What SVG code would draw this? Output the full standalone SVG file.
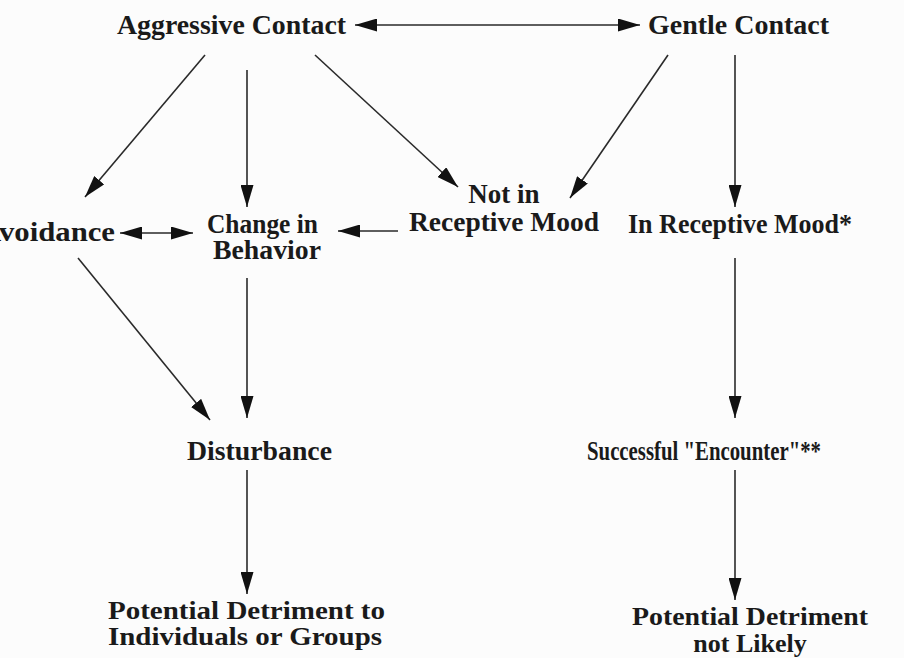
<svg xmlns="http://www.w3.org/2000/svg" width="904" height="658" viewBox="0 0 904 658">
<style>
text{font-family:"Liberation Serif","Times New Roman",serif;font-weight:bold;font-size:27px;fill:#1a1a1a}
.c line{stroke:#2a2a2a;stroke-width:1.6;fill:none}
</style>
<defs>
<marker id="ah" viewBox="0 0 22 13" refX="22" refY="6.5" markerWidth="22" markerHeight="13" markerUnits="userSpaceOnUse" orient="auto-start-reverse">
<path d="M0,0 L22,6.5 L0,13 Z" fill="#111"/>
</marker>
</defs>
<rect width="904" height="658" fill="#fcfcfc"/>
<g id="aggressive"><text x="117" y="34" textLength="229" lengthAdjust="spacingAndGlyphs">Aggressive Contact</text></g>
<g id="gentle"><text x="648" y="34" textLength="181" lengthAdjust="spacingAndGlyphs">Gentle Contact</text></g>
<g id="avoidance"><text x="-21" y="241" textLength="136" lengthAdjust="spacingAndGlyphs" style="font-size:28px">Avoidance</text></g>
<g id="change"><text x="207" y="233" textLength="111" lengthAdjust="spacingAndGlyphs">Change in</text><text x="213" y="259" textLength="108" lengthAdjust="spacingAndGlyphs">Behavior</text></g>
<g id="notin"><text x="504" y="203" text-anchor="middle">Not in</text><text x="409" y="231" textLength="190" lengthAdjust="spacingAndGlyphs">Receptive Mood</text></g>
<g id="inrecep"><text x="628" y="233" textLength="224" lengthAdjust="spacingAndGlyphs">In Receptive Mood*</text></g>
<g id="disturbance"><text x="187" y="460" textLength="145" lengthAdjust="spacingAndGlyphs">Disturbance</text></g>
<g id="successful"><text x="587" y="460" textLength="234" lengthAdjust="spacingAndGlyphs">Successful "Encounter"**</text></g>
<g id="detriment"><text x="108" y="619" textLength="277" lengthAdjust="spacingAndGlyphs" style="font-size:26px">Potential Detriment to</text><text x="108" y="645" textLength="274" lengthAdjust="spacingAndGlyphs" style="font-size:26px">Individuals or Groups</text></g>
<g id="notlikely"><text x="632" y="625" textLength="236" lengthAdjust="spacingAndGlyphs" style="font-size:26px">Potential Detriment</text><text x="750" y="652" text-anchor="middle" style="font-size:26px">not Likely</text></g>
<g class="c" id="connectors">
<line x1="355" y1="25" x2="640" y2="25" marker-start="url(#ah)" marker-end="url(#ah)"/>
<line x1="205" y1="55" x2="85" y2="197" marker-end="url(#ah)"/>
<line x1="247" y1="70" x2="247" y2="207" marker-end="url(#ah)"/>
<line x1="315" y1="55" x2="458" y2="187" marker-end="url(#ah)"/>
<line x1="668" y1="55" x2="570" y2="198" marker-end="url(#ah)"/>
<line x1="735" y1="55" x2="735" y2="207" marker-end="url(#ah)"/>
<line x1="120" y1="233" x2="193" y2="233" marker-start="url(#ah)" marker-end="url(#ah)"/>
<line x1="398" y1="231" x2="338" y2="231" marker-end="url(#ah)"/>
<line x1="78" y1="258" x2="210" y2="420" marker-end="url(#ah)"/>
<line x1="247" y1="278" x2="247" y2="418" marker-end="url(#ah)"/>
<line x1="735" y1="258" x2="735" y2="418" marker-end="url(#ah)"/>
<line x1="247" y1="470" x2="247" y2="594" marker-end="url(#ah)"/>
<line x1="735" y1="470" x2="735" y2="600" marker-end="url(#ah)"/>
</g>
</svg>
